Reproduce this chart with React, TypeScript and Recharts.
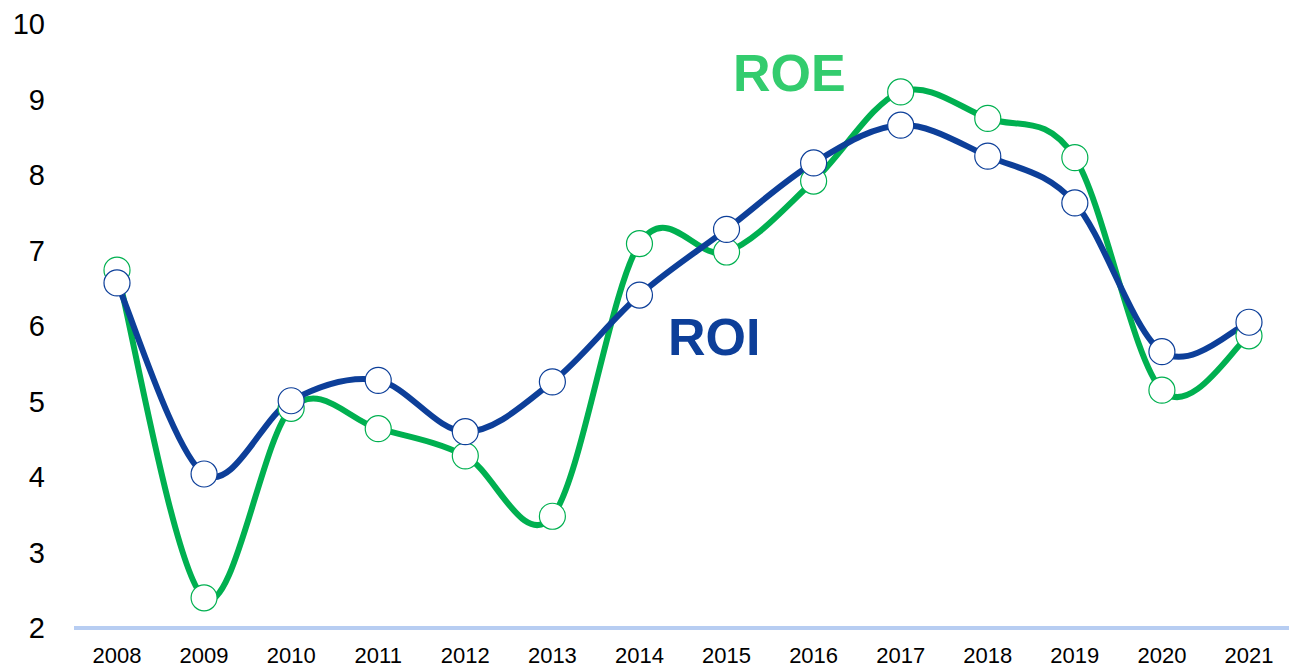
import React from 'react';
import { LineChart, Line, XAxis, YAxis } from 'recharts';

const years = ['2008', '2009', '2010', '2011', '2012', '2013', '2014', '2015', '2016', '2017', '2018', '2019', '2020', '2021'];
const roe = [6.74, 2.4, 4.91, 4.64, 4.28, 3.48, 7.09, 6.98, 7.92, 9.1, 8.75, 8.23, 5.15, 5.87];
const roi = [6.57, 4.04, 5.01, 5.28, 4.6, 5.26, 6.41, 7.28, 8.16, 8.66, 8.25, 7.63, 5.66, 6.05];
const yTicks = [2, 3, 4, 5, 6, 7, 8, 9, 10];

const data = years.map((year, i) => ({ year, roe: roe[i], roi: roi[i] }));

const GREEN = '#00b050';
const BLUE = '#0d3f99';

// Excel-style smoothed line (Catmull-Rom through every point)
const smoothCurve = (ctx: any) => {
    let pts: [number, number][] = [];
    return {
        areaStart() {},
        areaEnd() {},
        lineStart() { pts = []; },
        point(x: number, y: number) { pts.push([+x, +y]); },
        lineEnd() {
            if (!pts.length) return;
            ctx.moveTo(pts[0][0], pts[0][1]);
            for (let i = 0; i < pts.length - 1; i++) {
                const p0 = pts[i - 1] || pts[i];
                const p1 = pts[i];
                const p2 = pts[i + 1];
                const p3 = pts[i + 2] || p2;
                ctx.bezierCurveTo(
                    p1[0] + (p2[0] - p0[0]) / 6, p1[1] + (p2[1] - p0[1]) / 6,
                    p2[0] - (p3[0] - p1[0]) / 6, p2[1] - (p3[1] - p1[1]) / 6,
                    p2[0], p2[1]
                );
            }
        },
    };
};

const font = '"Liberation Sans", Arial, sans-serif';

export default function App() {
    return (
        <div style={{ position: 'absolute', left: 0, top: 0, width: 1289, height: 669, background: '#fff' }}>
            <LineChart width={1289} height={669} data={data} margin={{ top: 24, right: -3, bottom: 0, left: 0 }}>
                <XAxis
                    dataKey="year"
                    height={41}
                    padding={{ left: 43, right: 43 }}
                    axisLine={{ stroke: '#b7cdf2', strokeWidth: 4 }}
                    tickLine={false}
                    tickSize={0}
                    tickMargin={19}
                    tick={{ fill: '#000', fontSize: 22, fontFamily: font }}
                    interval={0}
                />
                <YAxis
                    domain={[2, 10]}
                    ticks={yTicks}
                    width={74}
                    axisLine={false}
                    tickLine={false}
                    tickSize={0}
                    tickMargin={29}
                    tick={{ fill: '#000', fontSize: 29, fontFamily: font }}
                />
                <Line
                    dataKey="roe"
                    type={smoothCurve as any}
                    stroke={GREEN}
                    strokeWidth={6}
                    dot={{ r: 13, fill: '#fff', stroke: GREEN, strokeWidth: 1.2 }}
                    isAnimationActive={false}
                />
                <Line
                    dataKey="roi"
                    type={smoothCurve as any}
                    stroke={BLUE}
                    strokeWidth={6}
                    dot={{ r: 13, fill: '#fff', stroke: BLUE, strokeWidth: 1.2 }}
                    isAnimationActive={false}
                />
            </LineChart>
            <svg width={1289} height={669} style={{ position: 'absolute', left: 0, top: 0, pointerEvents: 'none' }}>
                <text x={733} y={91} fill="#33cc6e" fontSize={52} fontWeight="bold" fontFamily={font}>ROE</text>
                <text x={668} y={355} fill={BLUE} fontSize={52} fontWeight="bold" fontFamily={font}>ROI</text>
            </svg>
        </div>
    );
}
